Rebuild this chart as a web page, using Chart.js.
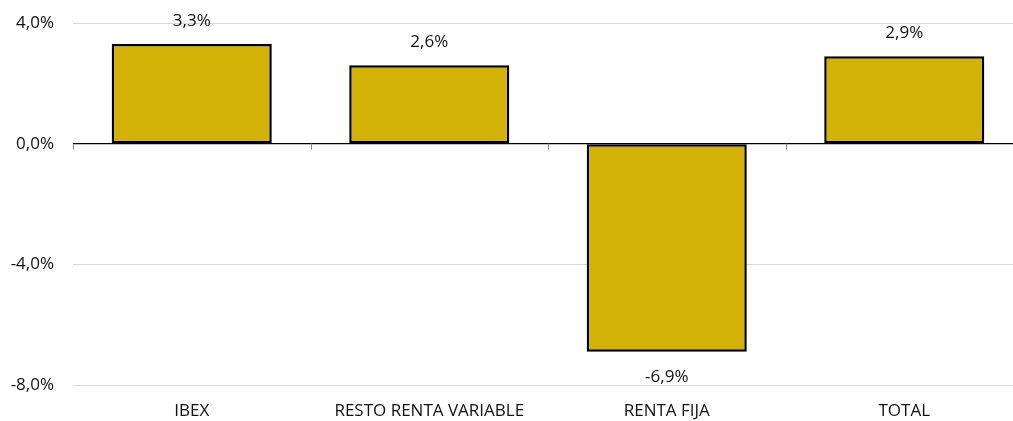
<!DOCTYPE html>
<html><head><meta charset="utf-8">
<script src="https://cdn.jsdelivr.net/npm/chart.js@4"></script>
<style>html,body{margin:0;padding:0;overflow:hidden;background:#fff;width:1013px;height:421px}canvas{display:block}</style>
</head><body>
<canvas id="c" width="1023" height="421"></canvas>
<script>
const categories = ["IBEX", "RESTO RENTA VARIABLE", "RENTA FIJA", "TOTAL"];
const values = [3.3, 2.6, -6.9, 2.9];
const yTicks = [4, 0, -4, -8];
const fmt = v => v.toFixed(1).replace('.', ',') + '%';
const FONT = "'Open Sans', 'Noto Sans', sans-serif";

const extras = {
  id: 'extras',
  afterDatasetsDraw(chart) {
    const ctx = chart.ctx, y = chart.scales.y;
    const y0 = y.getPixelForValue(0);
    ctx.save();
    ctx.strokeStyle = '#000'; ctx.lineWidth = 1.2;
    ctx.beginPath(); ctx.moveTo(chart.chartArea.left, y0); ctx.lineTo(chart.chartArea.right, y0); ctx.stroke();
    ctx.strokeStyle = '#888'; ctx.lineWidth = 1;
    const w = (chart.chartArea.right - chart.chartArea.left) / categories.length;
    for (let i = 0; i <= categories.length; i++) {
      const px = Math.round(chart.chartArea.left + i * w) + 0.5;
      ctx.beginPath(); ctx.moveTo(px, y0); ctx.lineTo(px, y0 + 6); ctx.stroke();
    }
    ctx.fillStyle = '#111'; ctx.font = "17px " + FONT; ctx.textAlign = 'center'; ctx.textBaseline = 'middle';
    chart.getDatasetMeta(0).data.forEach((bar, i) => {
      const v = values[i];
      const ty = v >= 0 ? bar.y - 23 : bar.y + 25;
      ctx.fillText(fmt(v), bar.x, ty);
    });
    ctx.restore();
  }
};

new Chart(document.getElementById('c'), {
  type: 'bar',
  data: {
    labels: categories,
    datasets: [{
      data: values,
      backgroundColor: '#D2B206',
      borderColor: '#000',
      borderWidth: 2.5,
      borderSkipped: false,
      barPercentage: 0.674,
      categoryPercentage: 1
    }]
  },
  options: {
    responsive: false,
    animation: false,
    layout: { padding: { top: 23, right: 0, left: 0, bottom: 0 } },
    plugins: { legend: { display: false }, tooltip: { enabled: false } },
    scales: {
      x: {
        grid: { display: false },
        border: { display: false },
        ticks: { color: '#111', font: { family: FONT, size: 17 }, padding: 8, maxRotation: 0 },
        afterFit(s) { s.height = 36; }
      },
      y: {
        min: -8, max: 4,
        afterBuildTicks(s) { s.ticks = yTicks.map(v => ({ value: v })); },
        grid: { color: '#d9d9d9', lineWidth: 1, drawTicks: true, tickLength: 19, tickColor: 'rgba(0,0,0,0)' },
        border: { display: false },
        ticks: { color: '#111', font: { family: FONT, size: 17 }, padding: 0, callback: v => fmt(v) },
        afterFit(s) { s.width = 73; }
      }
    }
  },
  plugins: [extras]
});
</script>
</body></html>
